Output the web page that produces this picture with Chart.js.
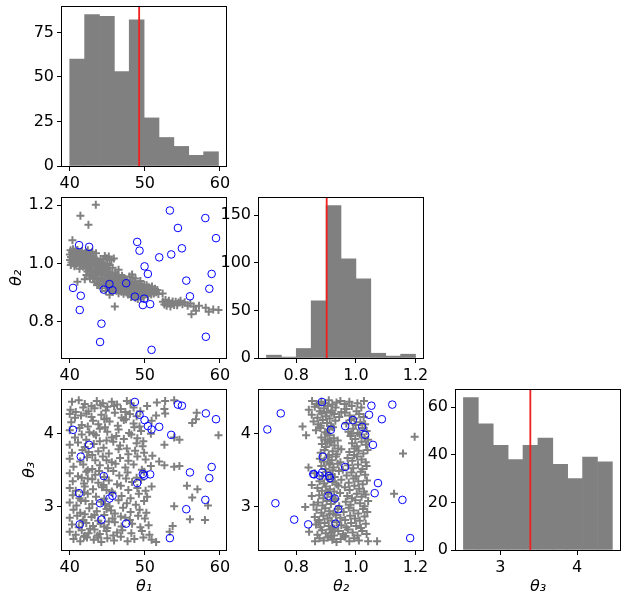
<!DOCTYPE html>
<html>
<head>
<meta charset="utf-8">
<script src="https://cdn.jsdelivr.net/npm/chart.js@4.4.0/dist/chart.umd.min.js"></script>
<style>
  html, body { margin: 0; padding: 0; background: #fff; }
  #wrap { position: relative; width: 627px; height: 602px; overflow: hidden; }
  #wrap canvas { position: absolute; }
</style>
</head>
<body>
<div id="wrap"></div>
<script>
// ---- histogram bins and counts ----
const binsT1 = [40.0, 41.98, 43.96, 45.94, 47.92, 49.9, 51.88, 53.86, 55.84, 57.82, 59.8];
const countsT1 = [60, 85, 84, 53, 82, 27, 16, 11, 6, 8];
const binsT2 = [0.70, 0.75, 0.80, 0.85, 0.90, 0.95, 1.00, 1.05, 1.10, 1.15, 1.20];
const countsT2 = [3, 1, 10, 60, 160, 104, 83, 5, 2, 4];
const binsT3 = [2.517, 2.711, 2.906, 3.100, 3.294, 3.489, 3.683, 3.877, 4.072, 4.266, 4.461];
const countsT3 = [64, 53, 44, 38, 44, 47, 36, 30, 39, 37];

// true values (red lines)
const truthT1 = 49.24;
const truthT2 = 0.902;
const truthT3 = 3.39;

// ---- observed points (blue circles), same sample in every panel ----
const obsT1 = [53.33, 58.05, 58.12, 54.40, 59.47, 41.24, 42.58, 48.98, 49.29, 54.93, 53.51, 51.91, 49.96, 50.40, 58.89, 55.51,
               58.58, 40.44, 41.47, 41.33, 45.29, 44.53, 45.69, 47.51, 48.67, 49.91, 49.73, 50.71, 56.00, 44.22, 44.04, 50.89];
const obsT2 = [1.182, 1.156, 0.748, 1.122, 1.087, 1.063, 1.057, 1.074, 1.044, 1.052, 1.031, 1.021, 0.990, 0.964, 0.964, 0.941,
               0.913, 0.916, 0.889, 0.840, 0.929, 0.910, 0.908, 0.932, 0.886, 0.879, 0.857, 0.860, 0.887, 0.793, 0.730, 0.703];
const obsT3 = [2.573, 3.096, 4.280, 4.400, 4.200, 3.188, 3.849, 3.326, 4.261, 4.385, 3.986, 4.096, 4.188, 4.106, 3.546, 2.968,
               3.394, 4.055, 3.688, 2.761, 3.115, 3.422, 3.151, 2.771, 4.436, 3.427, 3.450, 3.445, 3.472, 2.826, 3.050, 4.060];

// ---- posterior samples (grey crosses), read per panel ----
const grayT1T2 = [
  [40.02,1.031],[40.05,1.012],[40.11,1.045],[40.17,1.022],[40.23,1.003],[40.31,1.038],[40.38,1.016],[40.44,1.049],[40.52,1.027],
  [40.58,1.007],[40.66,1.041],[40.73,1.019],[40.81,0.998],[40.88,1.034],[40.95,1.011],[41.03,1.046],[41.10,1.024],[41.18,1.004],
  [41.25,1.037],[41.33,1.015],[41.41,0.994],[41.48,1.029],[41.56,1.008],[41.63,1.042],[41.71,1.020],[41.79,0.989],[41.86,1.032],
  [41.94,1.001],[41.98,1.018],[40.36,1.080],[41.42,1.164],[41.02,0.937],[40.14,0.995],[40.62,0.990],[41.30,0.982],
  [42.03,1.026],[42.08,1.004],[42.14,0.983],[42.19,1.038],[42.25,1.015],[42.31,0.993],[42.36,0.972],[42.42,1.029],[42.48,1.008],
  [42.55,0.987],[42.61,0.962],[42.67,1.021],[42.73,0.999],[42.79,0.977],[42.86,1.034],[42.92,1.012],[42.98,0.990],[43.04,0.968],
  [43.10,0.951],[43.16,1.025],[43.22,1.003],[43.28,0.981],[43.35,0.959],[43.41,1.017],[43.47,0.995],[43.53,0.973],[43.60,0.949],
  [43.66,1.009],[43.72,0.987],[43.78,0.965],[43.85,0.944],[43.91,1.001],[43.97,0.979],[42.22,0.960],[42.70,0.948],[43.30,0.935],
  [43.90,0.930],[42.49,1.133],[43.47,1.202],[42.00,0.946],[42.40,1.045],[43.00,1.040],[43.50,1.035],[42.85,0.958],[43.65,0.926],
  [44.03,0.992],[44.09,0.970],[44.15,0.948],[44.21,0.928],[44.28,1.004],[44.34,0.982],[44.40,0.960],[44.46,0.940],[44.53,0.995],
  [44.59,0.973],[44.65,0.951],[44.71,0.931],[44.78,0.987],[44.84,0.965],[44.90,0.943],[44.96,0.923],[45.03,0.979],[45.09,0.957],
  [45.15,0.936],[45.21,0.916],[45.28,0.971],[45.34,0.949],[45.40,0.928],[45.46,0.909],[45.53,0.963],[45.59,0.941],[45.65,0.921],
  [45.71,0.902],[45.78,0.955],[45.84,0.934],[45.90,0.914],[45.96,0.945],[44.67,1.026],[44.90,1.018],[45.20,1.024],[45.55,1.012],
  [45.87,1.017],[45.30,0.995],[44.45,1.013],[44.10,1.015],[45.00,1.000],[45.70,0.985],[44.30,0.915],[44.80,0.905],[45.30,0.892],
  [46.04,0.968],[46.10,0.947],[46.17,0.926],[46.23,0.906],[46.30,0.960],[46.37,0.939],[46.43,0.918],[46.50,0.898],[46.56,0.952],
  [46.63,0.931],[46.69,0.911],[46.76,0.944],[46.83,0.923],[46.89,0.903],[46.96,0.958],[47.02,0.936],[47.09,0.915],[47.16,0.896],
  [47.22,0.950],[47.29,0.928],[47.35,0.907],[47.42,0.942],[47.49,0.920],[47.55,0.900],[47.62,0.934],[47.69,0.912],[47.75,0.893],
  [47.82,0.926],[47.89,0.905],[47.95,0.955],[46.00,0.852],[46.50,0.978],
  [48.02,0.919],[48.07,0.898],[48.12,0.938],[48.17,0.885],[48.22,0.912],[48.28,0.930],[48.33,0.892],[48.38,0.951],[48.43,0.906],
  [48.48,0.924],[48.54,0.887],[48.59,0.915],[48.64,0.935],[48.69,0.899],[48.74,0.882],[48.80,0.920],[48.85,0.905],[48.90,0.928],
  [48.95,0.891],[49.00,0.912],[49.06,0.878],[49.11,0.899],[49.16,0.921],[49.21,0.886],[49.26,0.908],[49.32,0.930],[49.37,0.893],
  [49.42,0.914],[49.47,0.880],[49.52,0.902],[49.58,0.923],[49.63,0.889],[49.68,0.910],[49.73,0.897],[49.78,0.918],[49.84,0.884],
  [49.89,0.905],[49.94,0.926],[49.97,0.893],[48.30,0.962],[48.75,0.948],[49.40,0.940],
  [50.05,0.912],[50.15,0.896],[50.25,0.925],[50.35,0.904],[50.45,0.888],[50.55,0.918],[50.65,0.900],[50.75,0.912],[50.85,0.893],
  [50.95,0.921],[51.05,0.905],[51.20,0.897],[51.35,0.913],[51.50,0.901],[51.65,0.909],[51.80,0.895],
  [52.36,0.897],[52.40,0.868],[52.60,0.859],[52.75,0.874],[52.90,0.855],[53.05,0.866],[53.20,0.872],[53.40,0.852],[53.55,0.862],
  [53.70,0.869],[53.90,0.857],[54.10,0.868],[54.30,0.856],[54.50,0.866],[54.75,0.872],[55.00,0.860],[55.30,0.867],[55.70,0.855],
  [56.05,0.862],[56.20,0.825],[56.50,0.852],[56.80,0.837],[57.20,0.855],[58.10,0.848],[58.50,0.834],[59.10,0.842],[59.80,0.840]
];

const grayT1T3 = [
  [40.3,4.44],[41.2,4.46],[42.0,4.41],[43.6,4.45],[44.4,4.42],[45.6,4.44],[46.3,4.40],[47.6,4.45],[48.1,4.42],[51.6,4.43],[52.7,4.45],[53.9,4.46],[42.9,4.38],[45.0,4.37],
  [40.1,4.33],[41.8,4.36],[42.5,4.31],[43.3,4.35],[44.8,4.32],[45.9,4.38],[46.8,4.34],[47.4,4.30],[48.5,4.36],[49.4,4.31],[50.3,4.38],[52.6,4.34],[40.8,4.30],[44.1,4.39],
  [40.0,4.27],[40.7,4.22],[42.2,4.28],[42.9,4.23],[44.2,4.26],[44.9,4.21],[46.0,4.29],[46.9,4.22],[48.0,4.27],[48.9,4.24],[51.5,4.25],[52.7,4.28],[56.9,4.29],[41.5,4.25],[47.5,4.20],
  [40.2,4.16],[41.6,4.12],[43.1,4.18],[43.8,4.13],[45.3,4.17],[46.4,4.11],[47.2,4.19],[48.5,4.14],[49.3,4.10],[50.9,4.18],[56.3,4.15],[56.8,4.20],[42.4,4.10],[44.6,4.20],
  [40.0,4.05],[41.3,4.08],[42.6,4.02],[44.0,4.07],[45.0,4.03],[46.5,4.06],[47.9,4.01],[48.6,4.09],[49.5,4.04],[50.8,4.00],[44.7,4.09],[43.2,4.00],
  [40.7,3.95],[42.2,3.92],[43.5,3.98],[44.9,3.91],[46.2,3.97],[47.2,3.93],[48.2,3.99],[49.0,3.94],[49.8,3.90],[53.9,3.95],[54.6,3.92],[59.8,3.98],[41.6,3.99],[45.6,3.95],
  [40.0,3.85],[41.1,3.88],[42.0,3.82],[43.2,3.86],[44.5,3.81],[45.8,3.89],[46.7,3.84],[47.6,3.80],[48.9,3.87],[49.7,3.83],[52.6,3.85],[44.0,3.90],
  [40.3,3.74],[41.7,3.78],[43.0,3.71],[43.8,3.76],[45.2,3.73],[46.5,3.79],[47.8,3.72],[48.7,3.77],[49.9,3.74],[51.0,3.70],[42.5,3.75],
  [40.0,3.66],[41.4,3.62],[42.3,3.68],[43.4,3.64],[44.4,3.69],[45.6,3.61],[46.7,3.67],[47.8,3.63],[49.0,3.69],[50.1,3.65],[51.9,3.62],[44.9,3.64],
  [40.5,3.55],[41.8,3.58],[43.0,3.52],[44.0,3.57],[45.1,3.53],[46.1,3.59],[47.4,3.54],[48.5,3.58],[49.6,3.51],[50.8,3.56],[52.6,3.57],[53.9,3.55],[54.6,3.56],[42.4,3.50],
  [40.0,3.46],[41.1,3.42],[42.2,3.48],[43.4,3.44],[44.6,3.41],[45.8,3.49],[46.6,3.43],[47.7,3.47],[48.9,3.40],[49.9,3.48],[43.9,3.49],[41.6,3.40],
  [40.4,3.35],[41.9,3.32],[43.0,3.38],[43.8,3.33],[45.2,3.36],[46.3,3.31],[47.5,3.39],[48.3,3.34],[49.5,3.37],[44.5,3.30],[42.4,3.39],
  [40.0,3.26],[40.8,3.22],[42.0,3.28],[43.1,3.24],[44.3,3.27],[45.6,3.21],[46.8,3.29],[47.8,3.23],[49.0,3.26],[50.1,3.22],[50.9,3.28],[55.6,3.29],[57.0,3.24],[44.9,3.23],
  [40.4,3.16],[41.3,3.12],[42.4,3.18],[43.5,3.14],[44.6,3.11],[45.7,3.19],[46.9,3.15],[48.1,3.12],[49.2,3.18],[50.3,3.14],[56.3,3.13],[41.9,3.20],
  [40.0,3.06],[40.9,3.02],[42.1,3.08],[43.0,3.04],[44.2,3.07],[45.3,3.01],[46.5,3.09],[47.6,3.05],[48.8,3.03],[49.9,3.08],[53.9,3.01],[58.4,3.02],[44.7,3.04],[41.5,3.09],
  [40.5,2.96],[41.4,2.92],[42.6,2.98],[43.6,2.94],[44.9,2.97],[46.0,2.91],[47.1,2.99],[48.1,2.93],[49.3,2.96],[50.2,2.92],[42.0,2.90],[45.5,2.95],
  [40.0,2.85],[41.0,2.88],[41.8,2.82],[42.9,2.86],[43.8,2.81],[44.6,2.89],[45.7,2.84],[46.8,2.87],[48.0,2.82],[49.1,2.88],[50.0,2.84],[56.0,2.83],[58.0,2.82],[43.3,2.89],[45.2,2.80],[47.4,2.85],
  [40.3,2.76],[41.2,2.72],[42.2,2.78],[43.1,2.74],[44.1,2.77],[45.0,2.71],[46.0,2.79],[46.9,2.73],[48.3,2.77],[49.4,2.72],[50.5,2.75],[53.7,2.74],[42.7,2.70],[44.6,2.73],[41.7,2.79],
  [40.0,2.66],[40.8,2.62],[41.6,2.68],[42.5,2.64],[43.3,2.69],[44.0,2.63],[44.9,2.67],[45.8,2.61],[47.0,2.68],[48.2,2.64],[49.6,2.67],[50.6,2.62],[53.3,2.66],[43.7,2.61],[46.3,2.65],[42.0,2.60],
  [40.5,2.56],[41.4,2.53],[42.3,2.58],[43.2,2.55],[44.2,2.52],[45.0,2.57],[45.9,2.54],[46.8,2.59],[47.7,2.53],[48.6,2.56],[49.8,2.58],[50.9,2.55],[51.5,2.52],[43.8,2.58],[41.9,2.59]
];

const grayT2T3 = [
  [0.853,4.45],[0.868,4.41],[0.884,4.44],[0.897,4.42],[0.909,4.46],[0.921,4.40],[0.935,4.43],[0.948,4.45],[0.962,4.41],[0.978,4.44],[1.005,4.42],[1.027,4.45],[0.875,4.39],
  [0.842,4.33],[0.862,4.37],[0.879,4.31],[0.893,4.35],[0.906,4.38],[0.918,4.32],[0.932,4.36],[0.951,4.30],[0.968,4.34],[0.986,4.38],[1.002,4.31],[1.018,4.36],[0.902,4.30],
  [0.852,4.26],[0.871,4.22],[0.885,4.28],[0.899,4.24],[0.912,4.21],[0.927,4.27],[0.944,4.23],[0.963,4.29],[0.979,4.25],[0.995,4.21],[1.011,4.27],[1.026,4.23],[0.919,4.29],
  [0.821,4.10],[0.858,4.17],[0.874,4.13],[0.889,4.19],[0.903,4.15],[0.917,4.11],[0.931,4.18],[0.968,4.14],[0.984,4.19],[0.999,4.12],[1.015,4.16],[1.031,4.13],[0.882,4.11],
  [0.866,4.05],[0.881,4.08],[0.896,4.02],[0.909,4.06],[0.923,4.09],[0.975,4.03],[0.991,4.07],[1.006,4.01],[1.022,4.08],[1.036,4.04],[0.904,4.00],[0.985,4.00],
  [0.833,3.98],[0.884,3.95],[0.897,3.92],[0.911,3.98],[0.926,3.94],[0.939,3.91],[0.982,3.97],[0.998,3.93],[1.013,3.99],[1.029,3.95],[1.041,3.92],[1.197,3.96],[0.918,3.90],
  [0.886,3.86],[0.899,3.82],[0.913,3.88],[0.928,3.84],[0.941,3.80],[0.987,3.87],[1.003,3.83],[1.019,3.89],[1.034,3.85],[0.905,3.89],[0.995,3.80],
  [0.882,3.74],[0.895,3.78],[0.909,3.71],[0.922,3.76],[0.936,3.72],[0.951,3.79],[0.978,3.75],[0.994,3.71],[1.009,3.77],[1.025,3.73],[1.039,3.78],[1.158,3.73],
  [0.879,3.66],[0.893,3.62],[0.906,3.68],[0.919,3.64],[0.933,3.69],[0.948,3.61],[0.972,3.67],[0.988,3.63],[1.004,3.69],[1.019,3.65],[1.033,3.61],[0.912,3.60],
  [0.841,3.54],[0.884,3.56],[0.898,3.52],[0.911,3.58],[0.925,3.54],[0.939,3.59],[0.956,3.51],[0.974,3.57],[0.991,3.53],[1.007,3.58],[1.022,3.52],[1.036,3.56],
  [0.862,3.46],[0.887,3.42],[0.901,3.48],[0.915,3.44],[0.929,3.41],[0.943,3.49],[0.969,3.43],[0.985,3.47],[1.001,3.42],[1.016,3.48],[1.031,3.44],[0.922,3.50],
  [0.852,3.30],[0.878,3.35],[0.893,3.32],[0.907,3.38],[0.921,3.34],[0.935,3.31],[0.951,3.37],[0.976,3.33],[0.992,3.39],[1.008,3.35],[1.023,3.31],[1.037,3.36],
  [0.871,3.26],[0.886,3.22],[0.899,3.28],[0.913,3.24],[0.927,3.21],[0.941,3.29],[0.963,3.27],[0.979,3.23],[0.995,3.29],[1.011,3.25],[1.027,3.21],[0.906,3.20],
  [0.852,3.15],[0.877,3.16],[0.891,3.12],[0.904,3.18],[0.918,3.14],[0.932,3.11],[0.947,3.19],[0.971,3.15],[0.987,3.12],[1.003,3.18],[1.019,3.14],[1.033,3.17],[1.128,3.18],
  [0.858,3.03],[0.873,3.06],[0.888,3.02],[0.902,3.08],[0.916,3.04],[0.929,3.09],[0.944,3.01],[0.966,3.07],[0.982,3.03],[0.998,3.09],[1.014,3.05],[1.029,3.01],[1.041,3.08],
  [0.830,3.00],[0.868,2.96],[0.884,2.92],[0.897,2.98],[0.911,2.94],[0.925,2.91],[0.939,2.97],[0.959,2.93],[0.976,2.99],[0.992,2.95],[1.008,2.91],[1.024,2.97],[1.038,2.93],
  [0.862,2.86],[0.877,2.82],[0.891,2.88],[0.905,2.84],[0.919,2.81],[0.933,2.89],[0.948,2.85],[0.964,2.82],[0.981,2.88],[0.997,2.84],[1.013,2.81],[1.029,2.87],[0.912,2.90],
  [0.866,2.76],[0.881,2.72],[0.895,2.78],[0.909,2.74],[0.922,2.71],[0.936,2.79],[0.951,2.75],[0.968,2.72],[0.984,2.78],[1.001,2.74],[1.017,2.71],[1.033,2.77],[0.928,2.70],[0.874,2.79],
  [0.843,2.66],[0.871,2.62],[0.886,2.68],[0.899,2.64],[0.913,2.69],[0.927,2.61],[0.941,2.67],[0.957,2.63],[0.973,2.69],[0.989,2.65],[1.005,2.61],[1.021,2.67],[1.036,2.63],[0.919,2.65],[0.965,2.60],
  [0.863,2.53],[0.878,2.57],[0.892,2.54],[0.906,2.58],[0.921,2.55],[0.935,2.52],[0.949,2.56],[0.962,2.59],[0.978,2.53],[0.994,2.57],[1.010,2.54],[1.041,2.53],[1.071,2.53],[0.915,2.60]
];

// ---- axis ranges and ticks ----
const rangeT1 = [38.97, 60.8];
const rangeT2 = [0.675, 1.225];
const rangeT3 = [2.41, 4.60];
const rangeT3hist = [2.42, 4.56];
const ticksT1 = [40, 50, 60];
const ticksT2 = [0.8, 1.0, 1.2];
const ticksT3 = [3, 4];

// ---- layout ----
const L = 55, R = 12, T = 15, B = 48;
const colLeft = [62, 259, 456];
const rowTop = [7, 198, 390];
const rowH = [159, 160, 160];
const boxW = 164;

const GRAY = '#808080';
const FONT = { family: 'DejaVu Sans', size: 16 };

const boxPlugin = {
  id: 'box',
  afterDraw(chart) {
    const { ctx, chartArea: a } = chart;
    ctx.save();
    ctx.strokeStyle = '#000';
    ctx.lineWidth = 1;
    ctx.strokeRect(Math.round(a.left) - 0.5, Math.round(a.top) - 0.5,
                   Math.round(a.right - a.left) + 1, Math.round(a.bottom - a.top) + 1);
    ctx.restore();
  }
};

function makeCanvas(col, row) {
  const c = document.createElement('canvas');
  c.width = L + boxW + R;
  c.height = T + rowH[row] + B;
  c.style.left = (colLeft[col] - L) + 'px';
  c.style.top = (rowTop[row] - T) + 'px';
  document.getElementById('wrap').appendChild(c);
  return c;
}

function axis(horizontal, range, ticks, fmt, title, titlePad) {
  return {
    type: 'linear',
    min: range[0],
    max: range[1],
    offset: false,
    grid: { display: true, drawOnChartArea: false, drawTicks: true, tickLength: 5,
            color: '#000', lineWidth: 1, offset: false },
    border: { display: false },
    ticks: { color: '#000', font: FONT, padding: 3, autoSkip: false, maxRotation: 0,
             callback: fmt || (v => String(v)) },
    afterBuildTicks: s => { s.ticks = ticks.map(v => ({ value: v })); },
    afterFit: s => { if (horizontal) s.height = B; else s.width = L; },
    title: title ? {
      display: true, text: title, color: '#000',
      font: { family: 'DejaVu Sans', size: 16, style: 'italic' },
      padding: horizontal ? { top: 0, bottom: 2 } : { top: titlePad || 0, bottom: 0 }
    } : { display: false }
  };
}

const fmt1 = v => v.toFixed(1);

function baseOptions(xAxis, yAxis) {
  return {
    responsive: false,
    animation: false,
    events: [],
    layout: { padding: { top: T, right: R, left: 0, bottom: 0 } },
    plugins: { legend: { display: false }, tooltip: { enabled: false } },
    scales: { x: xAxis, y: yAxis }
  };
}

function histogram(col, row, edges, counts, truth, xRange, xTicks, xFmt, yMax, yTicks, xTitle) {
  const bars = counts.map((n, i) => ({ x: (edges[i] + edges[i + 1]) / 2, y: n }));
  new Chart(makeCanvas(col, row), {
    type: 'bar',
    data: {
      datasets: [
        { type: 'line', data: [{ x: truth, y: 0 }, { x: truth, y: yMax }], borderColor: '#f02020',
          borderWidth: 1.8, pointRadius: 0, order: 0, clip: 0 },
        { type: 'bar', data: bars, backgroundColor: GRAY, borderWidth: 0,
          barPercentage: 1.0, categoryPercentage: 1.0, order: 1 }
      ]
    },
    options: baseOptions(axis(true, xRange, xTicks, xFmt, xTitle),
                         axis(false, [0, yMax], yTicks, null, null)),
    plugins: [boxPlugin]
  });
}

function scatter(col, row, grayPts, obsX, obsY, xRange, xTicks, xFmt, yRange, yTicks, yFmt, xTitle, yTitle, yTitlePad) {
  new Chart(makeCanvas(col, row), {
    type: 'scatter',
    data: {
      datasets: [
        { data: obsX.map((x, i) => ({ x: x, y: obsY[i] })), pointStyle: 'circle', pointRadius: 3.8,
          borderColor: '#0000ff', backgroundColor: 'rgba(0,0,0,0)', borderWidth: 1, order: 0, clip: 0 },
        { data: grayPts.map(p => ({ x: p[0], y: p[1] })), pointStyle: 'cross', pointRadius: 4,
          borderColor: GRAY, backgroundColor: GRAY, borderWidth: 2, order: 1, clip: 0 }
      ]
    },
    options: baseOptions(axis(true, xRange, xTicks, xFmt, xTitle),
                         axis(false, yRange, yTicks, yFmt, yTitle, yTitlePad)),
    plugins: [boxPlugin]
  });
}

// row 1
histogram(0, 0, binsT1, countsT1, truthT1, rangeT1, ticksT1, null, 89.25, [0, 25, 50, 75], null);
// row 2
scatter(0, 1, grayT1T2, obsT1, obsT2, rangeT1, ticksT1, null, rangeT2, ticksT2, fmt1, null, 'θ₂', 0);
histogram(1, 1, binsT2, countsT2, truthT2, rangeT2, ticksT2, fmt1, 168, [0, 50, 100, 150], null);
// row 3
scatter(0, 2, grayT1T3, obsT1, obsT3, rangeT1, ticksT1, null, rangeT3, ticksT3, null, 'θ₁', 'θ₃', 13);
scatter(1, 2, grayT2T3, obsT2, obsT3, rangeT2, ticksT2, fmt1, rangeT3, ticksT3, null, 'θ₂', null, 0);
histogram(2, 2, binsT3, countsT3, truthT3, rangeT3hist, ticksT3, null, 67.2, [0, 20, 40, 60], 'θ₃');
</script>
</body>
</html>
